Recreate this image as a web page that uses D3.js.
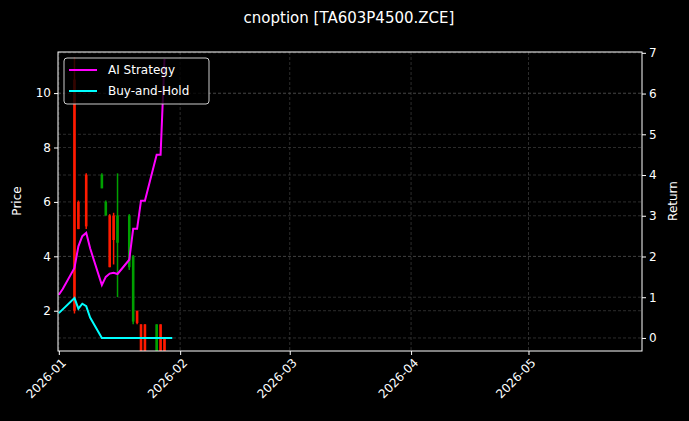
<!DOCTYPE html>
<html><head><meta charset="utf-8">
<script src="https://cdn.jsdelivr.net/npm/d3@7"></script>
<style>body{margin:0;background:#000}</style></head>
<body><svg id="c" width="689" height="421"></svg>
<script>
const candleDates=["2026-01-05","2026-01-06","2026-01-08","2026-01-12","2026-01-13","2026-01-14","2026-01-15","2026-01-16","2026-01-19","2026-01-20","2026-01-21","2026-01-22","2026-01-23","2026-01-26","2026-01-27","2026-01-28"];
const candleOpen =[10.5,6.0,7.0,6.5,5.5,5.5,5.5,4.5,3.6,1.6,2.0,1.5,1.5,0.5,1.5,1.0];
const candleClose=[2.0,5.0,5.1,7.0,6.0,3.6,4.6,5.5,5.5,4.0,1.55,0.5,0.5,1.5,0.5,0.5];
const candleHigh =[11.3,6.05,7.05,7.05,6.05,5.55,5.6,7.05,5.55,4.05,2.0,1.5,1.5,1.5,1.5,1.0];
const candleLow  =[1.9,5.0,5.0,6.5,5.5,3.6,3.7,2.5,3.5,1.5,1.5,0.5,0.5,0.5,0.5,0.5];
const aiDates=["2026-01-01","2026-01-02","2026-01-05","2026-01-06","2026-01-07","2026-01-08","2026-01-09","2026-01-12","2026-01-13","2026-01-14","2026-01-15","2026-01-16","2026-01-19","2026-01-20","2026-01-21","2026-01-22","2026-01-23","2026-01-26","2026-01-27","2026-01-28"];
const aiReturn=[1.06,1.2,1.72,2.25,2.5,2.58,2.2,1.30,1.5,1.58,1.6,1.57,1.92,2.68,2.68,3.37,3.37,4.5,4.5,6.85];
const bhDates=["2026-01-01","2026-01-05","2026-01-06","2026-01-07","2026-01-08","2026-01-09","2026-01-12","2026-01-30"];
const bhReturn=[0.61,0.98,0.72,0.84,0.78,0.5,0.0,0.0];
const priceTicks=[2,4,6,8,10];
const returnTicks=[0,1,2,3,4,5,6,7];
const monthTicks=["2026-01","2026-02","2026-03","2026-04","2026-05"];

const P=d3.timeParse("%Y-%m-%d"), M=d3.timeParse("%Y-%m");
const L=58,R=642,T=52,B=351;
const svg=d3.select("#c");
svg.append("rect").attr("width",689).attr("height",421).attr("fill","#000");
const x=d3.scaleTime().domain([new Date(2025,11,31,19),new Date(2026,4,30)]).range([L,R]);
const yP=d3.scaleLinear().domain([0.52,11.51]).range([B,T]);
const yR=d3.scaleLinear().domain([-0.32,7.02]).range([B,T]);
const g=svg.append("g");
const grid={stroke:"#4a4a4a","stroke-width":0.6,"stroke-dasharray":"3,2"};
function ap(s,o){for(const k in o)s.attr(k,o[k]);return s;}
ap(g.selectAll(".gx").data(monthTicks).join("line").attr("x1",d=>x(M(d))).attr("x2",d=>x(M(d))).attr("y1",T).attr("y2",B),grid);
ap(g.selectAll(".gp").data(priceTicks).join("line").attr("x1",L).attr("x2",R).attr("y1",d=>yP(d)).attr("y2",d=>yP(d)),grid);
ap(g.selectAll(".gr").data(returnTicks).join("line").attr("x1",L).attr("x2",R).attr("y1",d=>yR(d)).attr("y2",d=>yR(d)),grid);
svg.append("clipPath").attr("id","cl").append("rect").attr("x",L).attr("y",T).attr("width",R-L).attr("height",B-T);
const pg=svg.append("g").attr("clip-path","url(#cl)");
const cd=candleDates.map((d,i)=>({t:P(d),o:candleOpen[i],c:candleClose[i],h:candleHigh[i],l:candleLow[i]}));
const col=d=>d.c>=d.o?"#00a000":"#ff1a00";
pg.selectAll(".w").data(cd).join("line").attr("x1",d=>x(d.t)).attr("x2",d=>x(d.t)).attr("y1",d=>yP(d.h)).attr("y2",d=>yP(d.l)).attr("stroke",col).attr("stroke-width",1.5);
pg.selectAll(".b").data(cd).join("rect").attr("x",d=>x(d.t)-1.3).attr("width",2.6).attr("y",d=>yP(Math.max(d.o,d.c))).attr("height",d=>Math.max(1,Math.abs(yP(d.o)-yP(d.c)))).attr("fill",col);
const ln=d3.line().x(d=>x(d[0])).y(d=>yR(d[1]));
svg.append("path").datum(aiDates.map((d,i)=>[P(d),aiReturn[i]])).attr("d",ln).attr("fill","none").attr("stroke","#ff00ff").attr("stroke-width",2);
pg.append("path").datum(bhDates.map((d,i)=>[P(d),bhReturn[i]])).attr("d",ln).attr("fill","none").attr("stroke","#00ffff").attr("stroke-width",2);
svg.append("rect").attr("x",L).attr("y",T).attr("width",R-L).attr("height",B-T).attr("fill","none").attr("stroke","#fff").attr("stroke-width",1);
const ax=svg.append("g").attr("transform",`translate(0,${B})`).call(d3.axisBottom(x).tickValues(monthTicks.map(M)).tickFormat(d3.timeFormat("%Y-%m")).tickSizeOuter(0).tickSize(4));
ax.selectAll("text").attr("transform","rotate(-45)").attr("text-anchor","end").attr("dx","-0.3em").attr("dy","0.6em");
const al=svg.append("g").attr("transform",`translate(${L},0)`).call(d3.axisLeft(yP).tickValues(priceTicks).tickSizeOuter(0).tickSize(4));
const ar=svg.append("g").attr("transform",`translate(${R},0)`).call(d3.axisRight(yR).tickValues(returnTicks).tickSizeOuter(0).tickSize(4));
[ax,al,ar].forEach(a=>{a.select(".domain").remove();a.selectAll("line").attr("stroke","#fff");a.selectAll("text").attr("fill","#fff").style("font-family","DejaVu Sans").style("font-size","12px");});
svg.append("text").attr("x",349).attr("y",23).attr("text-anchor","middle").attr("fill","#fff").style("font-family","DejaVu Sans").style("font-size","15px").text("cnoption [TA603P4500.ZCE]");
svg.append("text").attr("transform","translate(21,201) rotate(-90)").attr("text-anchor","middle").attr("fill","#fff").style("font-family","DejaVu Sans").style("font-size","12px").text("Price");
svg.append("text").attr("transform","translate(677,201) rotate(-90)").attr("text-anchor","middle").attr("fill","#fff").style("font-family","DejaVu Sans").style("font-size","12px").text("Return");
const lg=svg.append("g");
lg.append("rect").attr("x",64).attr("y",58).attr("width",145).attr("height",46).attr("rx",3).attr("fill","#000").attr("fill-opacity",0.8).attr("stroke","#ccc");
[["AI Strategy","#ff00ff"],["Buy-and-Hold","#00ffff"]].forEach((d,i)=>{
 lg.append("line").attr("x1",69).attr("x2",97).attr("y1",70+i*21).attr("y2",70+i*21).attr("stroke",d[1]).attr("stroke-width",2);
 lg.append("text").attr("x",108).attr("y",74+i*21).attr("fill","#fff").style("font-family","DejaVu Sans").style("font-size","12px").text(d[0]);
});
</script></body></html>
